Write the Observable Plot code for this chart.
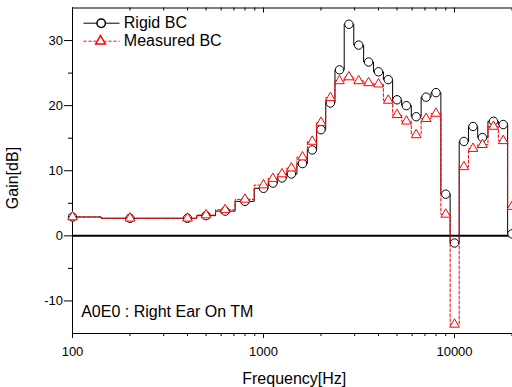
<!DOCTYPE html>
<html><head><meta charset="utf-8">
<script src="https://cdn.jsdelivr.net/npm/d3@7"></script>
<script src="https://cdn.jsdelivr.net/npm/@observablehq/plot@0.6"></script>
<style>body{margin:0;background:#fff} svg{display:block}</style>
</head><body><div id="chart"></div>
<script>
const frequencies = [100, 200, 400, 500, 630, 800, 1000, 1120, 1250, 1400, 1600, 1800, 2000, 2240, 2500, 2800, 3150, 3550, 4000, 4500, 5000, 5600, 6300, 7100, 8000, 9000, 10000, 11200, 12500, 14000, 16000, 18000, 20000];
const rigidBC = [2.9, 2.7, 2.7, 3.1, 3.8, 5.3, 7.3, 8.1, 8.9, 9.5, 11.1, 13.2, 16.3, 20.4, 25.5, 32.5, 29.3, 26.7, 25.2, 24.0, 20.9, 20.0, 18.3, 21.3, 22.0, 6.4, -1.1, 14.5, 16.8, 15.1, 17.6, 17.1, 0.3];
const measuredBC = [2.9, 2.7, 2.7, 3.2, 4.0, 5.6, 7.8, 8.8, 9.5, 10.4, 12.1, 14.5, 17.4, 21.2, 23.8, 24.4, 23.8, 23.5, 23.3, 20.8, 18.6, 17.6, 15.5, 18.0, 18.8, 3.3, -13.6, 10.6, 13.4, 14.0, 16.8, 14.6, 4.5];
const seriesNames = ["Rigid BC", "Measured BC"];
const annotation = "A0E0 : Right Ear On TM";
const xTitle = "Frequency[Hz]";
const yTitle = "Gain[dB]";
const xDomain = [100, 20000];
const yDomain = [-15, 35];
const xMajorTicks = [100, 1000, 10000];
const xMajorLabels = ["100", "1000", "10000"];
const xMinorTicks = [200, 300, 400, 500, 600, 700, 800, 900, 2000, 3000, 4000, 5000, 6000, 7000, 8000, 9000, 20000];
const yMajorTicks = [-10, 0, 10, 20, 30];
const yMajorLabels = ["-10", "0", "10", "20", "30"];
const yMinorTicks = [-5, 5, 15, 25];

const rigid = frequencies.map((f, i) => ({f, v: rigidBC[i]}));
const measured = frequencies.map((f, i) => ({f, v: measuredBC[i]}));

const W = 512, H = 387, mL = 72, mR = 0.5, mT = 7.5, mB = 54;
const innerH = H - mT - mB;
const font = "'Liberation Sans', Arial, sans-serif";
const red = "#ff0000";
const lw = 1.01;
const legendLine = {draw(ctx) { ctx.moveTo(-18, 0); ctx.lineTo(18, 0); }};

const plot = Plot.plot({
  width: W, height: H,
  marginLeft: mL, marginRight: mR, marginTop: mT, marginBottom: mB,
  style: {fontFamily: font, fontSize: "13px", color: "black", background: "white", overflow: "hidden"},
  x: {type: "log", domain: xDomain, label: null},
  y: {domain: yDomain, label: null},
  marks: [
    // frame (left, bottom, top)
    Plot.ruleX([xDomain[0]], {stroke: "black", strokeWidth: lw}),
    Plot.ruleY([yDomain[0]], {stroke: "black", strokeWidth: lw}),
    Plot.ruleY([yDomain[1]], {stroke: "black", strokeWidth: lw}),
    // bottom axis
    Plot.axisX(xMajorTicks, {anchor: "bottom", tickSize: 5, tickPadding: 8.5, fontSize: 13, label: null,
      tickFormat: d => xMajorLabels[xMajorTicks.indexOf(d)]}),
    Plot.axisX(xMinorTicks, {anchor: "bottom", tickSize: 3, tickFormat: () => "", label: null}),
    // top inward ticks
    Plot.ruleX(xMajorTicks, {x: d => d, insetBottom: innerH - 5, stroke: "black", strokeWidth: lw}),
    Plot.ruleX(xMinorTicks, {x: d => d, insetBottom: innerH - 3, stroke: "black", strokeWidth: lw}),
    // left axis
    Plot.axisY(yMajorTicks, {anchor: "left", tickSize: 8, tickPadding: 1.5, fontSize: 13, label: null,
      tickFormat: d => yMajorLabels[yMajorTicks.indexOf(d)]}),
    Plot.axisY(yMinorTicks, {anchor: "left", tickSize: 4, tickFormat: () => "", label: null}),
    // zero line
    Plot.ruleY([0], {stroke: "black", strokeWidth: 2}),
    // series
    Plot.line(rigid, {x: "f", y: "v", curve: "step", stroke: "black", strokeWidth: 1}),
    Plot.dot(rigid, {x: "f", y: "v", symbol: "circle", r: 4.2, stroke: "black", fill: "white", strokeWidth: 1}),
    Plot.line(measured, {x: "f", y: "v", curve: "step", stroke: red, strokeWidth: 1, strokeDasharray: "3,2"}),
    Plot.dot(measured, {x: "f", y: "v", symbol: "triangle", r: 3.6, stroke: red, fill: "white", strokeWidth: 1}),
    // legend
    Plot.dot([seriesNames[0]], {frameAnchor: "top-left", dx: 29, dy: 15.2, symbol: legendLine, stroke: "black", fill: "none", strokeWidth: 1}),
    Plot.dot([seriesNames[0]], {frameAnchor: "top-left", dx: 28.7, dy: 15.2, symbol: "circle", r: 4.2, stroke: "black", fill: "white"}),
    Plot.text([seriesNames[0]], {frameAnchor: "top-left", dx: 51.3, dy: 15, text: d => d, textAnchor: "start", lineAnchor: "middle", fontSize: 16, fill: "black"}),
    Plot.dot([seriesNames[1]], {frameAnchor: "top-left", dx: 29, dy: 33.2, symbol: legendLine, stroke: red, fill: "none", strokeWidth: 1, strokeDasharray: "3,2"}),
    Plot.dot([seriesNames[1]], {frameAnchor: "top-left", dx: 28, dy: 33.2, symbol: "triangle", r: 3.6, stroke: red, fill: "white"}),
    Plot.text([seriesNames[1]], {frameAnchor: "top-left", dx: 51.3, dy: 33.3, text: d => d, textAnchor: "start", lineAnchor: "middle", fontSize: 16, fill: "black"}),
    // annotation
    Plot.text([annotation], {frameAnchor: "bottom-left", dx: 8.7, dy: -21.3, text: d => d, textAnchor: "start", lineAnchor: "middle", fontSize: 16, fill: "black"}),
    // axis titles
    Plot.text([xTitle], {frameAnchor: "bottom", dx: 2, dy: 50.5, text: d => d, textAnchor: "middle", lineAnchor: "bottom", fontSize: 16, fill: "black"}),
    Plot.text([yTitle], {frameAnchor: "left", dx: -54.5, dy: 7.3, rotate: -90, text: d => d, textAnchor: "middle", lineAnchor: "bottom", fontSize: 16, fill: "black"})
  ]
});
document.getElementById("chart").appendChild(plot);
</script>
</body></html>
